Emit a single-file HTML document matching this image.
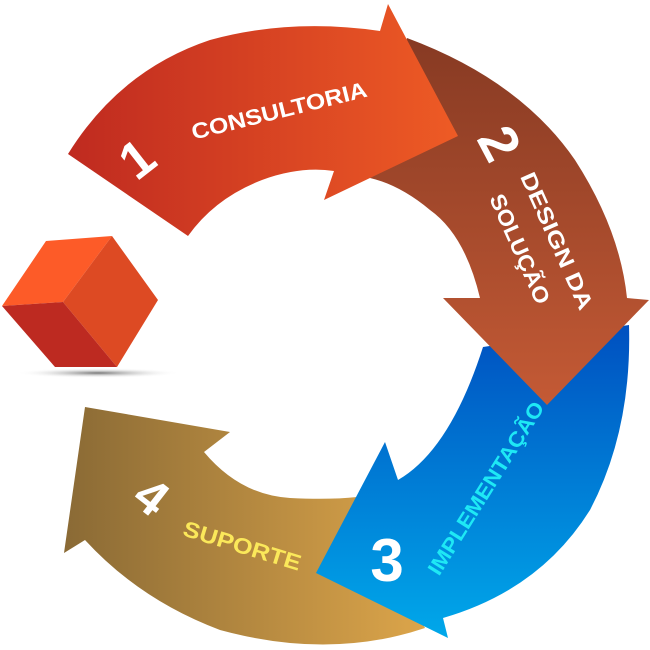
<!DOCTYPE html>
<html><head><meta charset="utf-8"><style>
html,body{margin:0;padding:0;background:#fff;width:650px;height:650px;overflow:hidden}
svg{display:block}
text{font-family:"Liberation Sans","DejaVu Sans",sans-serif;font-weight:bold}
</style></head><body>
<svg width="650" height="650" viewBox="0 0 650 650" xmlns="http://www.w3.org/2000/svg">
<defs>
<linearGradient id="g1" x1="0" y1="0" x2="1" y2="0"><stop offset="0" stop-color="#bf2a20"/><stop offset="1" stop-color="#ee5b25"/></linearGradient>
<linearGradient id="g2" x1="0" y1="0" x2="0" y2="1"><stop offset="0" stop-color="#873a23"/><stop offset="1" stop-color="#c45a35"/></linearGradient>
<linearGradient id="g3" x1="0" y1="0" x2="0" y2="1"><stop offset="0" stop-color="#0050c0"/><stop offset="1" stop-color="#00a8ea"/></linearGradient>
<linearGradient id="g4" x1="0" y1="0" x2="1" y2="0"><stop offset="0" stop-color="#8a6a35"/><stop offset="1" stop-color="#dca54a"/></linearGradient>
<radialGradient id="sh" cx="0.5" cy="0.5" r="0.5"><stop offset="0" stop-color="#777"/><stop offset="1" stop-color="#fff" stop-opacity="0"/></radialGradient>
</defs>
<path d="M425,628 Q330,660 220,630 Q140,600 85,540 L64,553 L85,407 L230,432 L204,452 Q240,495 290,498 Q330,500 357,497 Z" fill="url(#g4)"/>
<path d="M629,325 Q632,430 590,510 Q540,590 443,618 L448,638 L316,573 L385,442 L398,480 Q450,450 483,347 Z" fill="url(#g3)"/>
<path d="M407,38 Q520,80 575,160 Q620,230 627,298 L649,300 L547,405 L443,298 L480,298 Q465,235 430,210 Q400,185 370,178 Z" fill="url(#g2)"/>
<path d="M68,154 Q120,70 210,40 Q290,18 380,31 L388,4 L458,136 L324,200 L334,171 Q300,166 262,180 Q215,198 188,236 Z" fill="url(#g1)"/>
<ellipse cx="98" cy="373" rx="82" ry="5" fill="url(#sh)"/>
<path d="M112,236 L46,241 L2,306 L63,302 Z" fill="#fd5b28"/>
<path d="M112,236 L158,300 L117,367 L63,302 Z" fill="#dd4a23"/>
<path d="M2,306 L63,302 L117,367 L55,367 Z" fill="#bd2a21"/>
<g fill="#fff">
<text font-size="52" transform="translate(148,173) rotate(-38)" text-anchor="middle">1</text>
<text font-size="22" transform="translate(281,118) rotate(-14)" text-anchor="middle" textLength="180" lengthAdjust="spacingAndGlyphs">CONSULTORIA</text>
<text font-size="54" transform="translate(483,152) rotate(62)" text-anchor="middle">2</text>
<text font-size="22" transform="translate(550,244) rotate(66)" text-anchor="middle" textLength="148" lengthAdjust="spacingAndGlyphs">DESIGN DA</text>
<text font-size="22" transform="translate(513,252) rotate(66)" text-anchor="middle" textLength="118" lengthAdjust="spacingAndGlyphs">SOLUÇÃO</text>
<text font-size="60" transform="translate(387,581)" text-anchor="middle">3</text>
<text font-size="50" transform="translate(141,510) rotate(38)" text-anchor="middle">4</text>
</g>
<text font-size="21" fill="#1ee8f5" transform="translate(492,492) rotate(-58)" text-anchor="middle" textLength="200" lengthAdjust="spacingAndGlyphs">IMPLEMENTAÇÃO</text>
<text font-size="22" fill="#fbe85a" transform="translate(240,553) rotate(17)" text-anchor="middle" textLength="122" lengthAdjust="spacingAndGlyphs">SUPORTE</text>
</svg>
</body></html>
